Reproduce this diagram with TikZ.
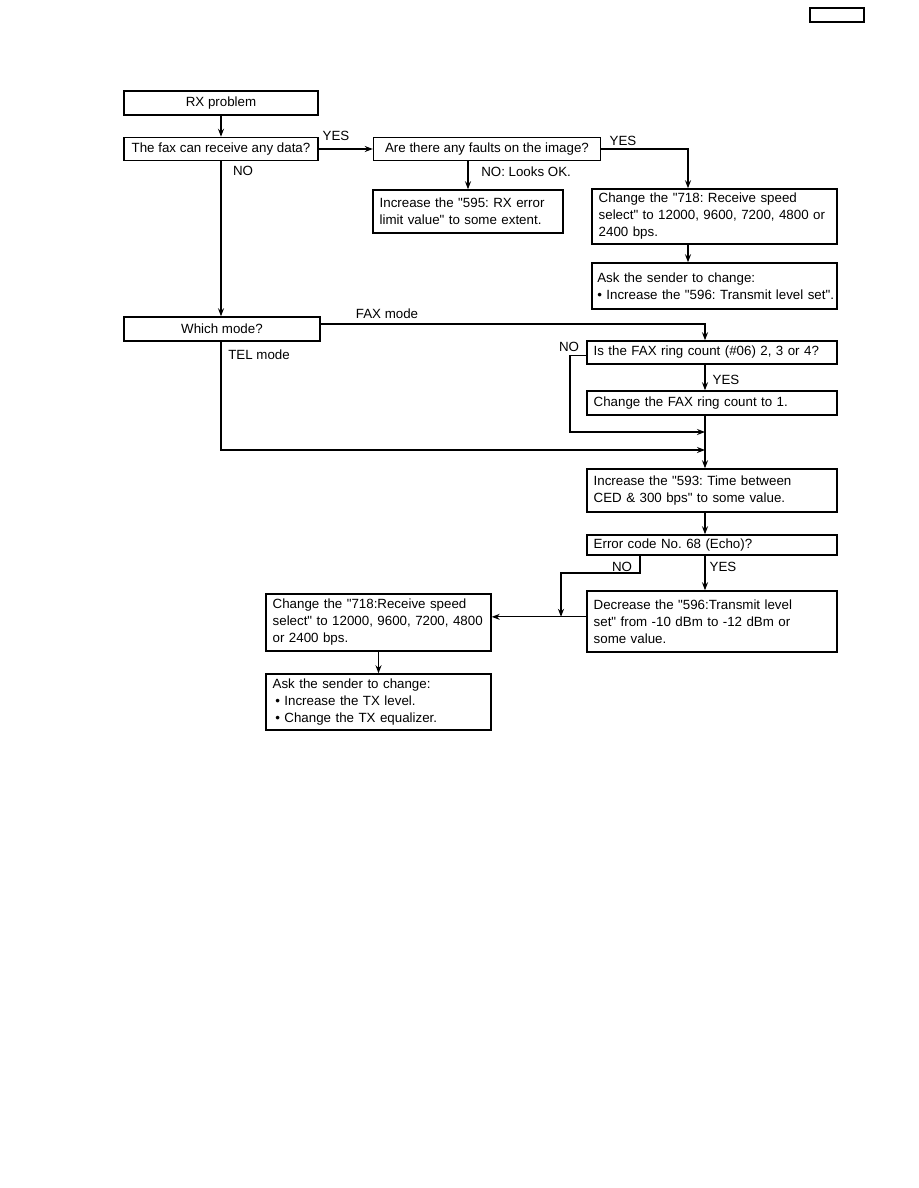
\documentclass[tikz,border=0pt]{standalone}
\usepackage{fontspec}
\setmainfont{Liberation Sans}[Ligatures=TeXOff]
\usetikzlibrary{arrows.meta,positioning}

\tikzset{
  box/.style={draw, line width=1.1pt, inner ysep=0pt, font=\fontsize{10}{12.75}\selectfont},
  cbox/.style={box, align=center},
  lbox/.style={box, align=left, inner xsep=5pt, text width=#1},
  lab/.style={inner sep=0pt, font=\fontsize{10}{12}\selectfont},
  arr/.style={-{Stealth[length=6pt,width=4.5pt]}, line width=0.9pt}
}

\begin{document}
\frenchspacing
\begin{tikzpicture}[x=0.75pt,y=-0.75pt]
  \path[fill=white] (0,0) rectangle (918,1188);
  \useasboundingbox (0,0) rectangle (918,1188);

  % page tag
  \node[box, minimum width=40.5pt, minimum height=10.5pt] (tag) at (837,15) {};

  % columns for the connectors
  \coordinate (colB) at (688,0);
  \coordinate (colR) at (705,0);

  % upper part
  \node[cbox, minimum width=145.5pt, minimum height=18pt] (rx) at (221,103) {RX problem};
  \node[cbox, minimum width=145.5pt, minimum height=17.25pt] (fax) at (221,149) {The fax can receive any data?};
  \node[cbox, minimum width=170.25pt, minimum height=17.25pt] (faults) at (487,149) {Are there any faults on the image?};
  \node[lbox=132.5pt, minimum height=32.25pt] (inc595) at (468,211.5) {Increase the "595: RX error\\limit value" to some extent.};
  \node[lbox=173.75pt, minimum height=41.25pt] (chg718) at (714.5,216.5) {Change the "718: Receive speed\\select" to 12000, 9600, 7200, 4800 or\\2400 bps.};
  \node[lbox=179.75pt, inner xsep=2pt, minimum height=34.5pt] (ask1) at (714.5,286) {\hspace{2pt}Ask the sender to change:\\\hspace{2pt}\textbullet{} Increase the "596: Transmit level set".};

  % mode part
  \node[cbox, minimum width=147pt, minimum height=18pt] (which) at (222,329) {Which mode?};
  \node[lbox=177.5pt, minimum height=17.25pt] (ring) at (712,352.5) {Is the FAX ring count (\#06) 2, 3 or 4?};
  \node[lbox=177.5pt, minimum height=18pt] (chgring) at (712,403) {Change the FAX ring count to 1.};
  \node[lbox=177.5pt, minimum height=32.25pt] (inc593) at (712,490.5) {Increase the "593: Time between\\CED \& 300 bps" to some value.};
  \node[lbox=177.5pt, minimum height=15pt] (err) at (712,545) {Error code No. 68 (Echo)?};
  \node[lbox=177.5pt, minimum height=45.75pt] (dec) at (712,621.5) {Decrease the "596:Transmit level\\set" from -10 dBm to -12 dBm or\\some value.};
  \node[lbox=158.75pt, minimum height=42.75pt] (chg718b) at (378.5,622.5) {Change the "718:Receive speed\\select" to 12000, 9600, 7200, 4800\\or 2400 bps.};
  \node[lbox=158.75pt, minimum height=42pt] (ask2) at (378.5,702) {Ask the sender to change:\\\hspace{2pt}\textbullet{} Increase the TX level.\\\hspace{2pt}\textbullet{} Change the TX equalizer.};

  % free ends of the loops
  \coordinate (ringw) at ([yshift=-2.5pt]ring.west);
  \coordinate (noR) at (570,432);
  \coordinate (jn1) at (705,432);
  \coordinate (jn2) at (705,450);
  \coordinate (noEtop) at (640,0);
  \coordinate (noE) at (561,573);
  \coordinate (decw) at ([yshift=3.5pt]dec.west);

  % labels
  \node[lab] (yes1) at (336,136) {YES};
  \node[lab] (no1) at (243,171) {NO};
  \node[lab, anchor=west] (nook) at (481,172) {NO: Looks OK.};
  \node[lab] (yes2) at (623,141) {YES};
  \node[lab] (faxm) at (387,314) {FAX mode};
  \node[lab, anchor=west] (telm) at (228,355) {TEL mode};
  \node[lab] (no2) at (569,347) {NO};
  \node[lab] (yes3) at (726,380) {YES};
  \node[lab] (no3) at (622,567) {NO};
  \node[lab] (yes4) at (723,567) {YES};

  % connectors
  \draw[arr] (rx) -- (fax);
  \draw[arr] (fax) -- (faults);
  \draw[arr] (faults.south -| inc595.north) -- (inc595);
  \draw[arr] (faults.east) -| (colB |- chg718.north);
  \draw[arr] (chg718.south -| colB) -- (colB |- ask1.north);
  \draw[arr] (fax.south) -- (fax.south |- which.north);
  \draw[arr] ([yshift=3.75pt]which.east) -| (colR |- ring.north);
  \draw[arr] (ring.south -| colR) -- (colR |- chgring.north);
  \draw[arr] (ringw) -| (noR) -- (jn1);
  \draw[arr] (which.south -| fax.south) |- (jn2);
  \draw[arr] (chgring.south -| colR) -- (colR |- inc593.north);
  \draw[arr] (inc593.south -| colR) -- (colR |- err.north);
  \draw[arr] (err.south -| colR) -- (colR |- dec.north);
  \draw[arr] (err.south -| noEtop) |- (noE) -- (noE |- decw);
  \draw[arr] (decw) -- (decw -| chg718b.east);
  \draw[arr] (chg718b) -- (ask2);
\end{tikzpicture}
\end{document}
